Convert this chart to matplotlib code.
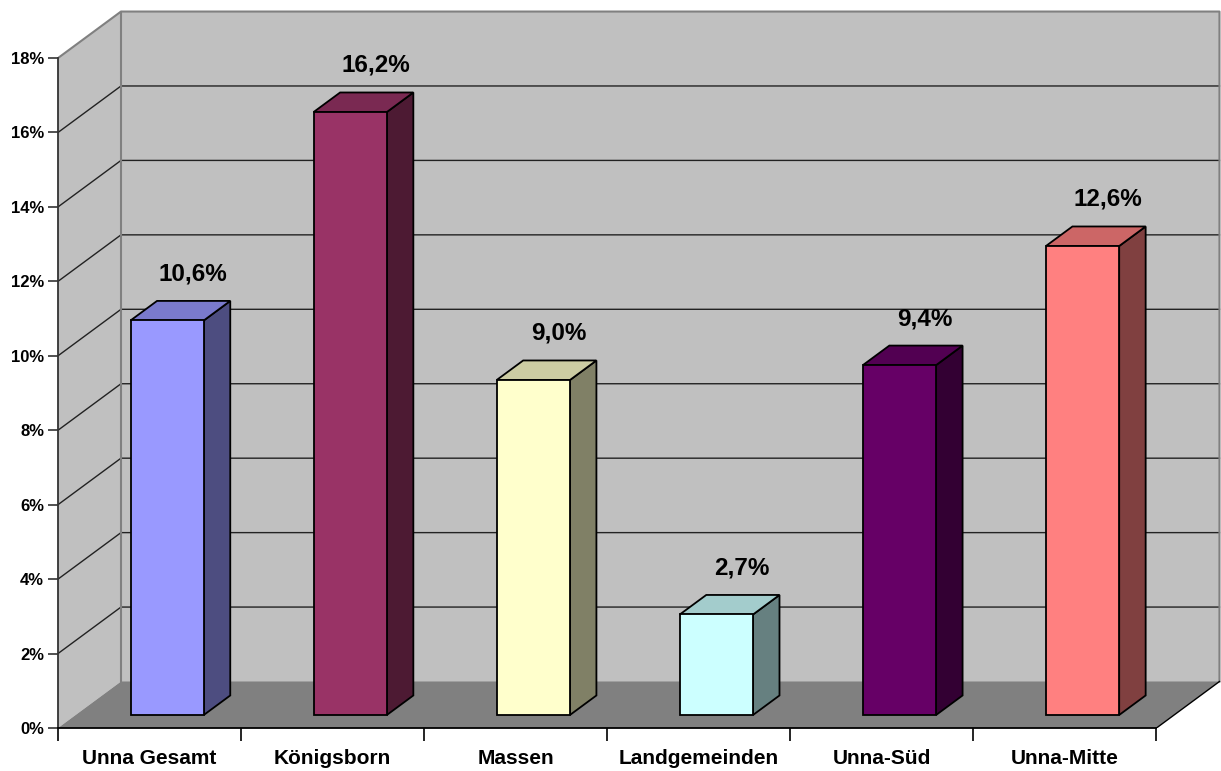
import matplotlib
matplotlib.use('Agg')
import matplotlib.pyplot as plt
from matplotlib.patches import Polygon

categories = ['Unna Gesamt', 'Königsborn', 'Massen', 'Landgemeinden', 'Unna-Süd', 'Unna-Mitte']
values = [10.6, 16.2, 9.0, 2.7, 9.4, 12.6]
labels = ['10,6%', '16,2%', '9,0%', '2,7%', '9,4%', '12,6%']
front_colors = ['#9999FF', '#993366', '#FFFFCC', '#CCFFFF', '#660066', '#FF8080']
y_ticks = [0, 2, 4, 6, 8, 10, 12, 14, 16, 18]

plt.rcParams['font.family'] = ['Liberation Sans', 'DejaVu Sans']
plt.rcParams['font.weight'] = 'bold'

# depth offset of the back wall in data units
DX = 63 / 183.08
DY = 46.5 / 37.22
Z0, Z1 = 0.28, 0.70   # bar front / back depth
BW = 0.4              # bar width


def shade(color, f):
    r, g, b = matplotlib.colors.to_rgb(color)
    return (r * f, g * f, b * f)


def proj(x, y, z):
    return (x + z * DX, y + z * DY)


fig = plt.figure(figsize=(12.21, 7.71), dpi=100)
ax = fig.add_axes([58 / 1221, 43 / 771, 1 - 58 / 1221, 1 - 43 / 771])
n = len(categories)
ax.set_xlim(0, (1221 - 58) / 183.08)
ax.set_ylim(0, 728 / 37.22)
ax.patch.set_visible(False)

top = y_ticks[-1]
# walls and floor
ax.add_patch(Polygon([proj(0, 0, 1), proj(n, 0, 1), proj(n, top, 1), proj(0, top, 1)],
                     facecolor='#C0C0C0', edgecolor='none', zorder=1))
ax.add_patch(Polygon([proj(0, 0, 0), proj(0, 0, 1), proj(0, top, 1), proj(0, top, 0)],
                     facecolor='#C0C0C0', edgecolor='none', zorder=1))
ax.add_patch(Polygon([proj(0, 0, 0), proj(n, 0, 0), proj(n, 0, 1), proj(0, 0, 1)],
                     facecolor='#808080', edgecolor='none', zorder=2))

for t in y_ticks[1:-1]:
    a, b = proj(0, t, 0), proj(0, t, 1)
    c = proj(n, t, 1)
    ax.plot([a[0], b[0], c[0]], [a[1], b[1], c[1]], color='#222222', lw=1, zorder=1.5)

# wall edges
pts = [proj(0, top, 0), proj(0, top, 1), proj(n, top, 1), proj(n, 0, 1)]
ax.plot([p[0] for p in pts], [p[1] for p in pts], color='#808080', lw=1.5, zorder=1.5)
p1, p2 = proj(0, 0, 1), proj(0, top, 1)
ax.plot([p1[0], p2[0]], [p1[1], p2[1]], color='#808080', lw=1.5, zorder=1.5)
p1, p2 = proj(n, 0, 0), proj(n, 0, 1)
ax.plot([p1[0], p2[0]], [p1[1], p2[1]], color='black', lw=1, zorder=2.5)

# bars
for i, (v, lab, col) in enumerate(zip(values, labels, front_colors)):
    x0 = i + 0.5 - BW / 2
    x1 = i + 0.5 + BW / 2
    front = [proj(x0, 0, Z0), proj(x1, 0, Z0), proj(x1, v, Z0), proj(x0, v, Z0)]
    side = [proj(x1, 0, Z0), proj(x1, 0, Z1), proj(x1, v, Z1), proj(x1, v, Z0)]
    topf = [proj(x0, v, Z0), proj(x1, v, Z0), proj(x1, v, Z1), proj(x0, v, Z1)]
    for poly, f in ((side, 0.5), (topf, 0.8), (front, 1.0)):
        ax.add_patch(Polygon(poly, facecolor=shade(col, f), edgecolor='black',
                             lw=1.3, joinstyle='miter', zorder=3))
    ax.text(i + 0.5 + 0.235, v + 1.6, lab, ha='center', va='center',
            fontsize=17.5, fontweight='bold', zorder=4)

# axes
for s in ('top', 'right'):
    ax.spines[s].set_visible(False)
ax.spines['left'].set_bounds(0, top)
ax.spines['bottom'].set_bounds(0, n)
ax.spines['left'].set_color('#333333')
ax.spines['bottom'].set_color('black')
ax.spines['left'].set_linewidth(1.3)
ax.spines['bottom'].set_linewidth(1.3)
ax.spines['left'].set_zorder(5)
ax.spines['bottom'].set_zorder(5)

ax.set_yticks(y_ticks)
ax.set_yticklabels([f'{t}%' for t in y_ticks])
ax.tick_params(axis='y', length=7, width=1.2, color='#333333', pad=3, labelsize=12)
ax.set_xticks(range(n + 1))
ax.set_xticklabels([])
ax.set_xticks([i + 0.5 for i in range(n)], minor=True)
ax.set_xticklabels(categories, minor=True)
ax.tick_params(axis='x', which='major', length=9, width=1.2, color='black')
ax.tick_params(axis='x', which='minor', length=0, pad=15, labelsize=15)

fig.savefig('out.png', dpi=100)
